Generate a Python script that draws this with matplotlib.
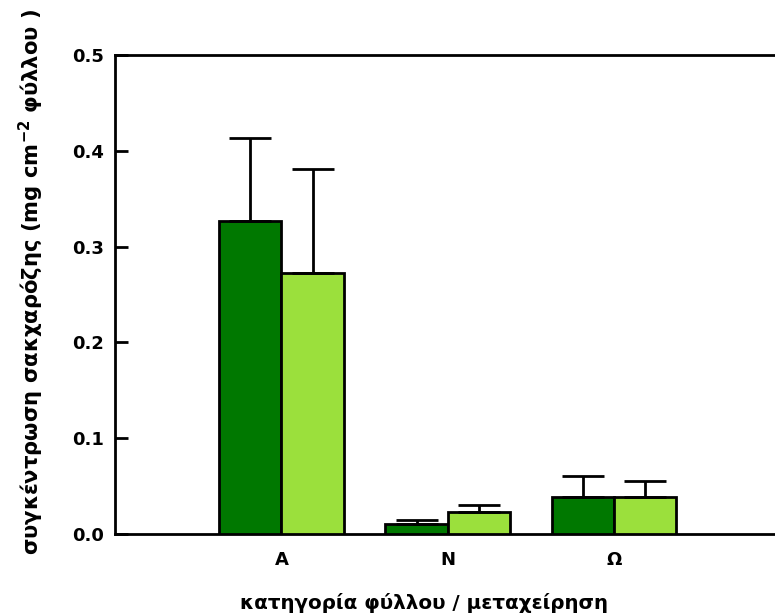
import numpy as np
import matplotlib
matplotlib.use('Agg')
import matplotlib.pyplot as plt

categories = ['A', 'N', 'Ω']
dark_vals = [0.327, 0.010, 0.039]
dark_err = [0.086, 0.005, 0.022]
light_vals = [0.272, 0.023, 0.039]
light_err = [0.109, 0.007, 0.016]

plt.rcParams['font.family'] = ['DejaVu Sans']
plt.rcParams['font.weight'] = 'bold'
plt.rcParams['mathtext.default'] = 'bf'

fig = plt.figure(figsize=(7.75, 6.14), dpi=100)
ax = fig.add_axes([0.1484, 0.1303, 0.8586, 0.7801])

x = np.arange(len(categories))
w = 0.375
ax.bar(x - w/2, dark_vals, w, color='#007800', edgecolor='black', linewidth=2,
       yerr=[np.zeros(3), dark_err], error_kw=dict(ecolor='black', elinewidth=2, capsize=15, capthick=2), zorder=3)
ax.bar(x + w/2, light_vals, w, color='#9be03c', edgecolor='black', linewidth=2,
       yerr=[np.zeros(3), light_err], error_kw=dict(ecolor='black', elinewidth=2, capsize=15, capthick=2), zorder=3)

ax.set_xlim(-1, 3)
ax.set_ylim(0, 0.5)
ax.set_yticks([0.0, 0.1, 0.2, 0.3, 0.4, 0.5])
ax.set_yticklabels(['0.0', '0.1', '0.2', '0.3', '0.4', '0.5'])
ax.set_xticks(x)
ax.set_xticklabels(categories)
ax.tick_params(axis='y', direction='in', length=9, width=2, labelsize=13, pad=8)
ax.tick_params(axis='x', length=0, labelsize=13, pad=12)
for s in ['left', 'top', 'bottom']:
    ax.spines[s].set_linewidth(2)
ax.spines['right'].set_visible(False)

ax.set_xlabel('κατηγορία φύλλου / μεταχείρηση', fontsize=14.3, fontweight='bold')
ax.xaxis.set_label_coords(0.464, -0.124)
ax.set_ylabel('συγκέντρωση σακχαρόζης (mg cm$^{-2}$ φύλλου )', fontsize=15.2, fontweight='bold')
ax.yaxis.set_label_coords(-0.104, 0.526)

fig.savefig('out.png', dpi=100)
